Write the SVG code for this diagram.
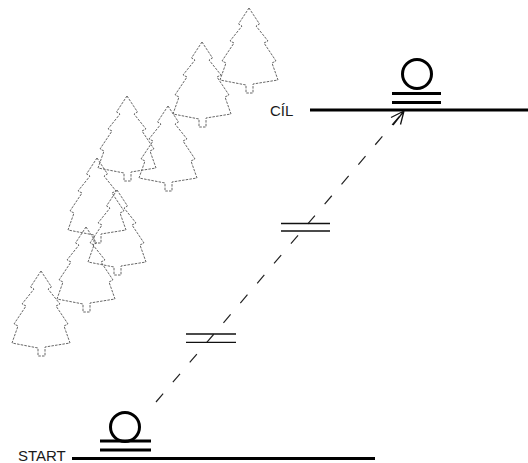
<svg xmlns="http://www.w3.org/2000/svg" xmlns:xlink="http://www.w3.org/1999/xlink" width="528" height="463" viewBox="0 0 528 463">
  <style>
    .tree { fill: none; stroke: #555; stroke-width: 0.9; stroke-dasharray: 2.5 1.2; stroke-linejoin: round; }
    .bar { stroke: #000; stroke-width: 3.2; fill: none; }
    .ring { stroke: #000; stroke-width: 3; fill: none; }
    .label { font-family: "Liberation Sans", Arial, sans-serif; font-size: 15px; fill: #1a1a1a; }
    .route { stroke: #222; stroke-width: 1.2; fill: none; stroke-dasharray: 11 15; }
    .tick { stroke: #111; stroke-width: 1.3; fill: none; }
  </style>
  <defs>
    <!-- spruce outline, apex at origin -->
    <path id="spruce" class="tree" d="M0,0 L10.5,16 L7,18 L19,33 L15,35 L27,53 L23,55 L29,72 L4,76 L4,85 L-3,85 L-3,77 L-29,72 L-23,55 L-27,53 L-15,35 L-19,33 L-7,18 L-10.5,16 Z"/>
  </defs>
  <rect width="528" height="463" fill="#fff"/>

  <g id="forest">
    <use xlink:href="#spruce" x="249" y="8"/>
    <use xlink:href="#spruce" x="202" y="42"/>
    <use xlink:href="#spruce" x="127" y="96"/>
    <use xlink:href="#spruce" x="168" y="106"/>
    <use xlink:href="#spruce" x="97" y="158"/>
    <use xlink:href="#spruce" x="117" y="190"/>
    <use xlink:href="#spruce" x="86" y="227"/>
    <use xlink:href="#spruce" x="41" y="271"/>
  </g>

  <g id="start">
    <line class="bar" x1="72" y1="458.5" x2="375" y2="458.5"/>
    <text class="label" x="18" y="460.5">START</text>
    <circle class="ring" cx="125" cy="427" r="14.5"/>
    <line class="bar" x1="100" y1="441" x2="151" y2="441" stroke-width="2.8"/>
    <line class="bar" x1="100" y1="450" x2="151" y2="450" stroke-width="2.8"/>
  </g>

  <g id="goal">
    <line class="bar" x1="310" y1="110" x2="528" y2="110"/>
    <text class="label" x="270" y="116">CÍL</text>
    <circle class="ring" cx="417" cy="74" r="14.5"/>
    <line class="bar" x1="392" y1="93.5" x2="441" y2="93.5" stroke-width="2.8"/>
    <line class="bar" x1="392" y1="102.5" x2="441" y2="102.5" stroke-width="2.8"/>
  </g>

  <g id="connectors">
    <line class="route" x1="156" y1="402" x2="404" y2="111"/>
    <path class="tick" d="M404,111 L391,117.5 M404,111 L400.5,124.5 M404,111 L393,125"/>
    <!-- equal-length marks -->
    <path class="tick" d="M281,223.5 H330 M281,231 H330"/>
    <path class="tick" d="M186,334 H236 M186,342.3 H236"/>
  </g>
</svg>
